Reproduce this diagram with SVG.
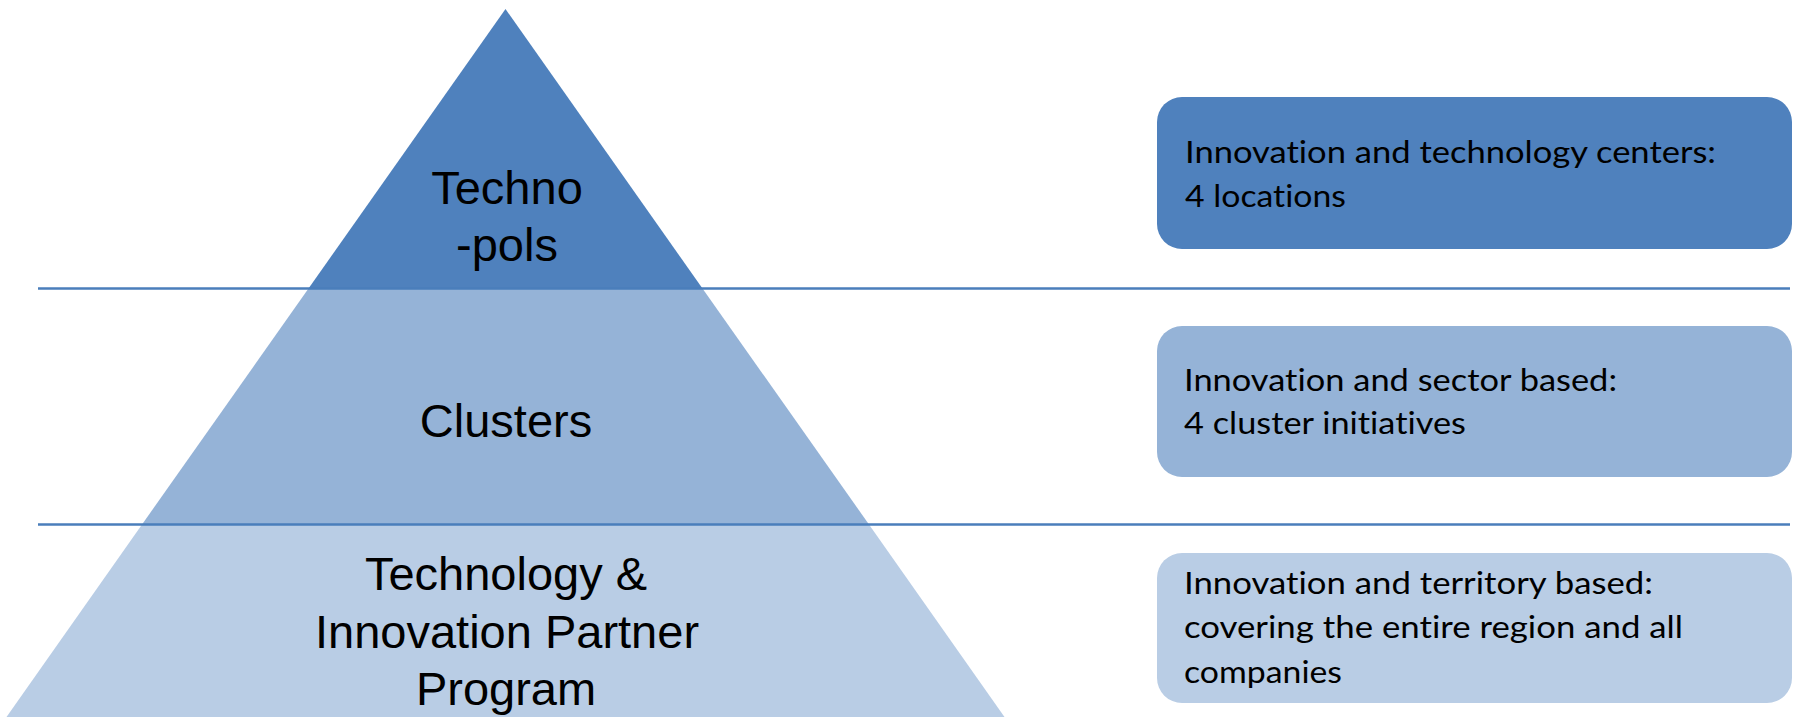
<svg xmlns="http://www.w3.org/2000/svg" width="1796" height="717" viewBox="0 0 1796 717">
  <style>
    .lvl1 { fill: #4F81BD; }
    .lvl2 { fill: #95B3D7; }
    .lvl3 { fill: #B9CDE5; }
    .ptxt { font-family: "Liberation Sans", Arial, sans-serif; font-size: 47px; fill: #000; text-anchor: middle; }
    .btxt { font-family: Lato, "Open Sans", sans-serif; font-size: 31px; fill: #000; font-variant-ligatures: none; }
    .divider { stroke: #4A7EBB; stroke-width: 2.5; fill: none; }
  </style>
  <rect width="1796" height="717" fill="#FFFFFF"/>

  <g id="pyramid-top">
    <polygon class="lvl1" points="505.5,9 702.5,288.5 308.5,288.5"/>
    <text class="ptxt" x="507" y="204">Techno</text>
    <text class="ptxt" x="507" y="261">-pols</text>
  </g>
  <g id="pyramid-middle">
    <polygon class="lvl2" points="308.5,288.5 702.5,288.5 869,524.5 142,524.5"/>
    <text class="ptxt" x="506" y="437">Clusters</text>
  </g>
  <g id="pyramid-bottom">
    <polygon class="lvl3" points="142,524.5 869,524.5 1004.5,717 6.5,717"/>
    <text class="ptxt" x="506" y="590">Technology &amp;</text>
    <text class="ptxt" x="507" y="648">Innovation Partner</text>
    <text class="ptxt" x="506" y="705">Program</text>
  </g>

  <g id="connectors">
    <line class="divider" x1="38" y1="288.5" x2="1790" y2="288.5"/>
    <line class="divider" x1="38" y1="524.5" x2="1790" y2="524.5"/>
  </g>

  <g id="box-technopols">
    <rect class="lvl1" x="1157" y="97" width="635" height="152" rx="25" ry="25"/>
    <text class="btxt" x="1185" y="163" textLength="531" lengthAdjust="spacingAndGlyphs">Innovation and technology centers:</text>
    <text class="btxt" x="1185" y="207" textLength="161" lengthAdjust="spacingAndGlyphs">4 locations</text>
  </g>
  <g id="box-clusters">
    <rect class="lvl2" x="1157" y="326" width="635" height="151" rx="25" ry="25"/>
    <text class="btxt" x="1184" y="391" textLength="433" lengthAdjust="spacingAndGlyphs">Innovation and sector based:</text>
    <text class="btxt" x="1184" y="434" textLength="282" lengthAdjust="spacingAndGlyphs">4 cluster initiatives</text>
  </g>
  <g id="box-partner">
    <rect class="lvl3" x="1157" y="553" width="635" height="150" rx="25" ry="25"/>
    <text class="btxt" x="1184" y="594" textLength="469" lengthAdjust="spacingAndGlyphs">Innovation and territory based:</text>
    <text class="btxt" x="1184" y="638" textLength="499" lengthAdjust="spacingAndGlyphs">covering the entire region and all</text>
    <text class="btxt" x="1184" y="683" textLength="158" lengthAdjust="spacingAndGlyphs">companies</text>
  </g>
</svg>
